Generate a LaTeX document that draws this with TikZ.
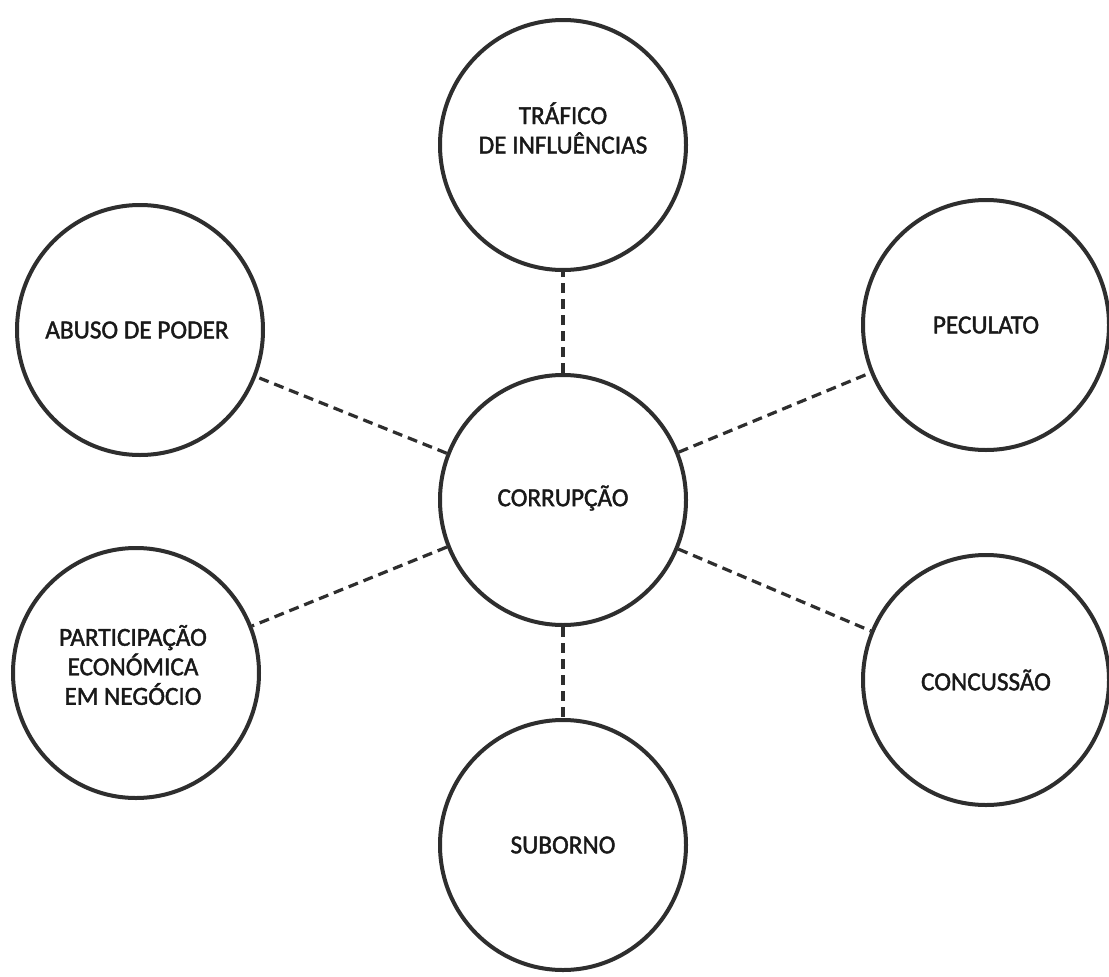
\documentclass[tikz,border=0pt]{standalone}
\usepackage{fontspec}
\setmainfont{Carlito}
\newfontfamily\lblfont{Carlito}[FakeBold=1.6,FakeStretch=0.97]
\usetikzlibrary{shapes.geometric}
\begin{document}
\begin{tikzpicture}[x=1pt,y=-1pt,
  bubble/.style={ellipse, draw=black!82, line width=4pt, minimum width=246pt, minimum height=250pt,
    inner sep=0pt, fill=white},
  txt/.style={align=center, inner sep=0pt, text=black!90, font=\lblfont\fontsize{26}{29.5}\selectfont},
  link/.style={draw=black!82, line width=3.2pt, dash pattern=on 10pt off 6pt}]
\fill[white] (0,0) rectangle (1109,977);
\useasboundingbox (0,0) rectangle (1109,977);
\node[bubble] (cor) at (563,500) {};
\node[bubble] (tra) at (563,145) {};
\node[bubble] (abu) at (140,330) {};
\node[bubble] (pec) at (986,325) {};
\node[bubble] (par) at (136,673) {};
\node[bubble] (con) at (986,680) {};
\node[bubble] (sub) at (563,845) {};
\node[txt] (corT) at (563,498) {CORRUPÇÃO};
\node[txt] (traT) at (563,128) {TRÁFICO\\DE INFLUÊNCIAS};
\node[txt] (abuT) at (137,330) {ABUSO DE PODER};
\node[txt] (pecT) at (986,325) {PECULATO};
\node[txt] (parT) at (133,665) {PARTICIPAÇÃO\\ECONÓMICA\\EM NEGÓCIO};
\node[txt] (conT) at (986,680) {CONCUSSÃO};
\node[txt] (subT) at (563,845) {SUBORNO};
\foreach \n in {tra,abu,pec,par,con,sub}
  \draw[link] (cor) -- (\n);
\end{tikzpicture}
\end{document}
